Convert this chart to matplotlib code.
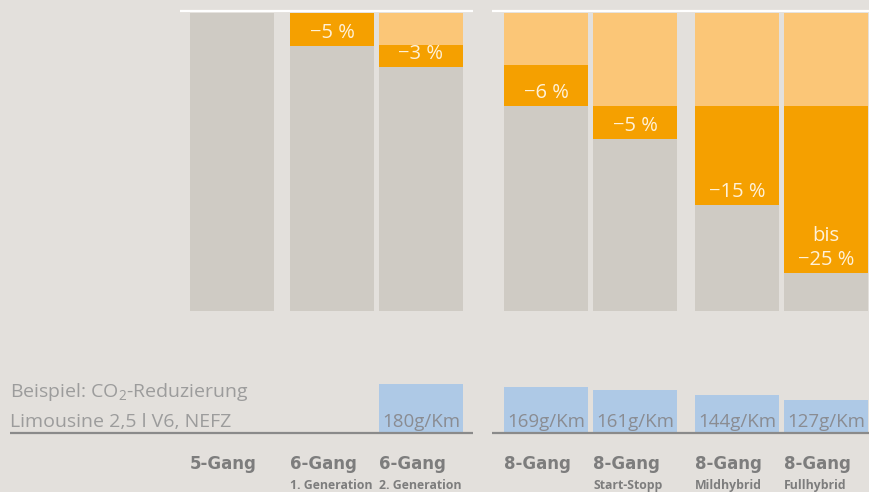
import numpy as np
import matplotlib as mpl
from matplotlib import pyplot as plt

plt.rcParams['font.family'] = ['Open Sans', 'DejaVu Sans']

# data
categories = ['5-Gang', '6-Gang', '6-Gang', '8-Gang', '8-Gang', '8-Gang', '8-Gang']
subtitles = ['', '1. Generation', '2. Generation', '', 'Start-Stopp', 'Mildhybrid', 'Fullhybrid']
remaining = [100, 88.9, 81.9, 68.8, 57.7, 35.6, 12.8]      # grey part (share of 5-Gang bar)
reduction = [0, 11.1, 7.4, 13.8, 11.1, 33.2, 56.0]         # orange part
red_labels = ['', '\u22125 %', '\u22123 %', '\u22126 %', '\u22125 %', '\u221215 %', 'bis\n\u221225 %']
co2 = [None, None, 180, 169, 161, 144, 127]
co2_labels = ['', '', '180g/Km', '169g/Km', '161g/Km', '144g/Km', '127g/Km']

# layout (pixel positions on a 869 px wide canvas)
W, H = 869, 492
bar_left = np.array([190, 290, 379, 504, 593, 695, 784])
bar_w = 84
centers = bar_left + bar_w / 2

bg = '#e3e0dc'
grey = '#cfcbc4'
orange = '#f5a000'
light_orange = '#fbc677'
blue = '#aec9e6'

fig = plt.figure(figsize=(W / 100, H / 100), dpi=100, facecolor=bg)

# stacked bars
ax1 = fig.add_axes([0, (H - 311) / H, 1, 298 / H])
ax1.set_xlim(0, W)
ax1.set_ylim(0, 100)
ax1.axis('off')
rem = np.array(remaining)
red = np.array(reduction)
light = 100 - rem - red
ax1.bar(centers, rem, width=bar_w, color=grey, linewidth=0)
ax1.bar(centers, red, width=bar_w, bottom=rem, color=orange, linewidth=0)
ax1.bar(centers, light, width=bar_w, bottom=rem + red, color=light_orange, linewidth=0)
for x, r, lab in zip(centers, rem, red_labels):
    if lab:
        ax1.annotate(lab, (x, r), xytext=(0, 5.5), textcoords='offset points',
                     ha='center', va='baseline', color='#fff1d8', fontsize=14.5,
                     linespacing=1.25)
ax1.hlines(100.6, 180, 473, color='white', lw=1.6, clip_on=False)
ax1.hlines(100.6, 492, W, color='white', lw=1.6, clip_on=False)

# CO2 bars
ax2 = fig.add_axes([0, (H - 433) / H, 1, 63 / H])
ax2.set_xlim(0, W)
y0 = 18
ax2.set_ylim(y0, y0 + 63 / 0.302)
ax2.axis('off')
for x, v, lab in zip(centers, co2, co2_labels):
    if v is None:
        continue
    ax2.bar(x, v, width=bar_w, color=blue, linewidth=0)
    ax2.annotate(lab, (x, y0), xytext=(0, 4.5), textcoords='offset points',
                 ha='center', va='baseline', color='#8a8c92', fontsize=13.5)
ax2.hlines(y0, 10, 473, color='#8a8a8a', lw=1.6, clip_on=False)
ax2.hlines(y0, 492, W, color='#8a8a8a', lw=1.6, clip_on=False)

fig.text(10 / W, 1 - 397 / H, 'Beispiel: CO$\\mathregular{_2}$-Reduzierung', color='#9c9c9c',
         fontsize=14, va='baseline')
fig.text(10 / W, 1 - 427 / H, 'Limousine 2,5 l V6, NEFZ', color='#9c9c9c',
         fontsize=14, va='baseline')

for x, cat, sub in zip(bar_left, categories, subtitles):
    fig.text(x / W, 1 - 469 / H, cat, color='#7d7d7d', fontsize=12,
             fontweight='bold', va='baseline', family='DejaVu Sans')
    if sub:
        fig.text(x / W, 1 - 489 / H, sub, color='#7d7d7d', fontsize=8.8,
                 fontweight='bold', va='baseline')

plt.savefig('out.png', dpi=100, facecolor=bg)
